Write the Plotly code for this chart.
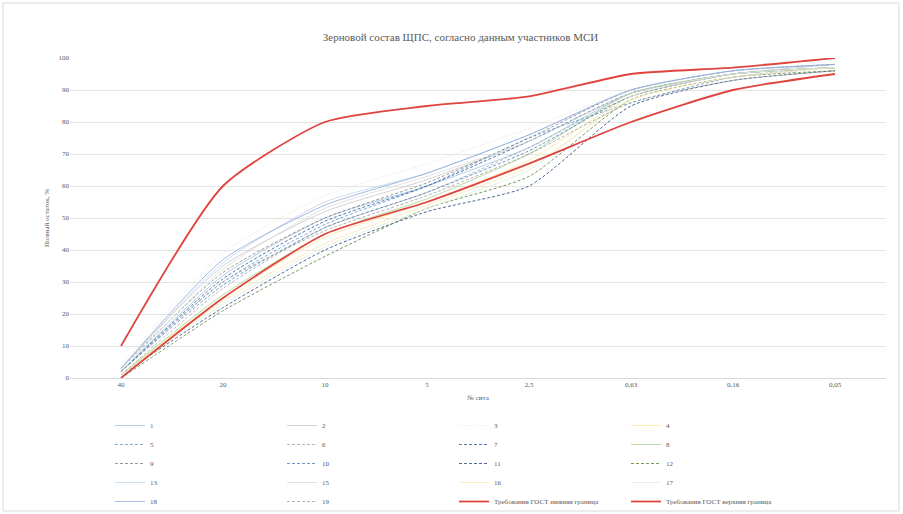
import plotly.graph_objects as go

sieves = ["40", "20", "10", "5", "2,5", "0,63", "0,16", "0,05"]

participants = ["1", "2", "3", "4", "5", "6", "7", "8", "9", "10",
                "11", "12", "13", "15", "16", "17", "18", "19"]

p1 = [2, 32, 50, 60, 72, 89, 95, 97]
p2 = [3, 35, 52, 62, 74, 89, 95, 98]
p3 = [4, 39, 57, 67, 78, 90, 96, 98]
p4 = [1, 25, 44, 55, 68, 88, 95, 97]
p5 = [2, 30, 48, 60, 75, 86, 94, 97]
p6 = [1, 28, 47, 58, 72, 88, 95, 97]
p7 = [2, 31, 49, 60, 74, 89, 95, 97]
p8 = [1, 26, 45, 56, 70, 89, 95, 97]
p9 = [3, 33, 50, 61, 75, 90, 96, 98]
p10 = [2, 29, 47, 58, 71, 88, 95, 97]
p11 = [1, 22, 40, 52, 60, 85, 93, 96]
p12 = [0, 21, 38, 53, 63, 87, 94, 96]
p13 = [3, 36, 55, 64, 76, 90, 96, 98]
p15 = [2, 34, 53, 63, 74, 89, 95, 97]
p16 = [1, 24, 42, 54, 66, 87, 94, 97]
p17 = [1, 23, 41, 53, 65, 88, 95, 97]
p18 = [3, 37, 54, 64, 76, 90, 96, 98]
p19 = [2, 30, 46, 57, 70, 86, 93, 96]

gost_low = [10, 60, 80, 85, 88, 95, 97, 100]
gost_high = [0, 25, 45, 55, 67, 80, 90, 95]

series = [p1, p2, p3, p4, p5, p6, p7, p8, p9, p10,
          p11, p12, p13, p15, p16, p17, p18, p19]

colors = ["#9DC3E6", "#C9C9C9", "#D9D9D9", "#FFE699", "#5B9BD5", "#A5A5A5",
          "#2F5597", "#A9D18E", "#7F7F7F", "#4A7FB5", "#264478", "#548235",
          "#BDD7EE", "#DBDBDB", "#FFE9B0", "#E2EFDA", "#8FAADC", "#9E9E9E"]
DASH = "3px,2px"
DOT = "1px,2px"
dashes = ["solid", "solid", DOT, "solid", DASH, DASH, DASH, "solid",
          DASH, DASH, DASH, DASH, "solid", "solid", "solid", "solid",
          "solid", DASH]

fig = go.Figure()
for name, vals, c, d in zip(participants, series, colors, dashes):
    fig.add_trace(go.Scatter(
        x=sieves, y=vals, name=name, mode="lines",
        line=dict(color=c, width=1, dash=d, shape="spline", smoothing=0.6),
        opacity=0.8,
    ))

fig.add_trace(go.Scatter(
    x=sieves, y=gost_high, name="Требования ГОСТ нижняя граница", mode="lines",
    line=dict(color="#E0443E", width=1.8, shape="spline", smoothing=0.6),
))
fig.add_trace(go.Scatter(
    x=sieves, y=gost_low, name="Требования ГОСТ верхняя граница", mode="lines",
    line=dict(color="#E0443E", width=1.8, shape="spline", smoothing=0.6),
))

font_fam = "Liberation Serif, Times New Roman, serif"
fig.update_layout(
    width=903, height=514,
    paper_bgcolor="white", plot_bgcolor="white",
    margin=dict(l=70, r=17, t=58, b=136, autoexpand=False),
    title=dict(text="Зерновой состав ЩПС, согласно данным участников МСИ",
               x=0.51, xanchor="center", y=0.928, yanchor="middle",
               font=dict(family=font_fam, size=11, color="#595959")),
    font=dict(family=font_fam, size=8, color="#595959"),
    xaxis=dict(
        title=dict(text="№ сита", font=dict(size=7, color="#595959"), standoff=6),
        showgrid=False, showline=True, linecolor="#D9D9D9", linewidth=1,
        ticks="", tickfont=dict(size=7, color="#595959"),
        range=[-0.5, 7.5],
    ),
    yaxis=dict(
        title=dict(text="Полный остаток, %", font=dict(size=7, color="#595959"), standoff=8),
        range=[0, 100], dtick=10, showgrid=True, gridcolor="#E4E4E4", gridwidth=1,
        zeroline=True, zerolinecolor="#E4E4E4", ticks="",
        tickfont=dict(size=7, color="#595959"),
    ),
    legend=dict(
        orientation="h", xref="container", yref="container",
        x=110 / 903, xanchor="left", y=(514 - 411) / 514, yanchor="top",
        entrywidth=127, entrywidthmode="pixels",
        font=dict(family=font_fam, size=7, color="#595959"),
        itemwidth=30, tracegroupgap=0, traceorder="normal",
        bgcolor="rgba(0,0,0,0)",
    ),
    showlegend=True,
    shapes=[dict(type="rect", xref="paper", yref="paper",
                 x0=(3 - 70) / 816, x1=(899 - 70) / 816,
                 y0=(378 - 511) / 320, y1=(378 - 3) / 320,
                 line=dict(color="#D9D9D9", width=1), fillcolor="rgba(0,0,0,0)",
                 layer="below")],
)

fig.write_html("out.html")
